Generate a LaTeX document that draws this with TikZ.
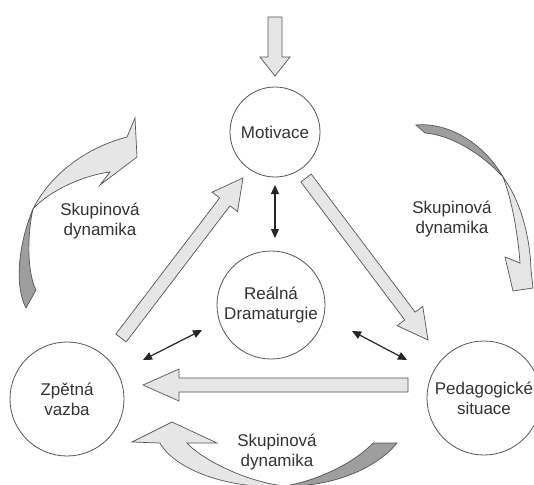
\documentclass[tikz,border=0pt]{standalone}
\usepackage{fontspec}
\setmainfont{Liberation Sans}
\usetikzlibrary{calc,arrows.meta}
\definecolor{lightfill}{HTML}{E6E6E6}
\definecolor{darkfill}{HTML}{9E9E9E}
\definecolor{edgec}{HTML}{555555}
\definecolor{txt}{HTML}{333333}
\newcommand\blockarr[5]{%
  \path ($(#2)!#5!(#1)$) coordinate (ba-hb);
  \draw[blockst] ($(#1)!#3!90:(#2)$) -- ($(ba-hb)!#3!90:(#2)$) -- ($(ba-hb)!#4!90:(#2)$) -- (#2)
    -- ($(ba-hb)!#4!-90:(#2)$) -- ($(ba-hb)!#3!-90:(#2)$) -- ($(#1)!#3!-90:(#2)$) -- cycle;
}
\begin{document}
\begin{tikzpicture}[x=1pt,y=-1pt,
  circ/.style={circle,draw=edgec,line width=0.8pt,minimum size=#1,inner sep=0pt,align=center,text=txt,font=\fontsize{17}{20}\selectfont},
  lbl/.style={align=center,text=txt,font=\fontsize{17}{20}\selectfont},
  blockst/.style={fill=lightfill,draw=edgec,line width=0.7pt,line join=miter},
  darkst/.style={fill=darkfill,draw=edgec,line width=0.7pt},
  dbl/.style={{Triangle[length=9pt,width=8pt]}-{Triangle[length=9pt,width=8pt]},line width=1.2pt,draw=black!85}]
\useasboundingbox (0,0) rectangle (534,484);
\fill[white] (0,0) rectangle (534,484);
\clip (0,0) rectangle (534,484);

% circles
\node[circ=90pt] (mot) at (275,132) {Motivace};
\node[circ=108pt] (dra) at (271,305) {Reálná\\Dramaturgie};
\node[circ=114pt] (zpv) at (67,399) {Zpětná\\vazba};
\node[circ=114pt] (ped) at (484,398) {Pedagogické\\situace};

% straight block arrows
\coordinate (intail) at (275,17);
\coordinate (intip) at (275,76);
\blockarr{intail}{intip}{7pt}{15pt}{19pt}
\coordinate (fbtail) at (121,338);
\coordinate (fbtip) at (243,178);
\blockarr{fbtail}{fbtip}{6.5pt}{16pt}{30pt}
\coordinate (mptail) at (306,178);
\coordinate (mptip) at (428,340);
\blockarr{mptail}{mptip}{6.5pt}{16pt}{30pt}
\coordinate (pztail) at (408,385);
\coordinate (pztip) at (143,385);
\blockarr{pztail}{pztip}{7pt}{16pt}{36pt}

% double arrows
\coordinate (v1) at (275,185); \coordinate (v2) at (275,238);
\draw[dbl] (v1) -- (v2);
\coordinate (l1) at (202,330); \coordinate (l2) at (143,360);
\draw[dbl] (l1) -- (l2);
\coordinate (r1) at (352,331); \coordinate (r2) at (407,360);
\draw[dbl] (r1) -- (r2);

% curved arrows: left
\draw[darkst] (33,209) .. controls (22,235) and (12,280) .. (26,308) -- (36,290)
  .. controls (26,270) and (28,230) .. (33,209) -- cycle;
\draw[blockst] (33,209) .. controls (50,175) and (85,148) .. (127,137) -- (135,118) -- (137,157)
  -- (100,185) -- (110,172) .. controls (85,175) and (50,190) .. (33,209) -- cycle;
% right
\draw[darkst] (416,125) .. controls (450,122) and (485,145) .. (503,177)
  .. controls (480,152) and (450,135) .. (425,133) -- cycle;
\draw[blockst] (503,177) .. controls (520,200) and (530,235) .. (531,270) -- (533,288) -- (513,291)
  -- (505,257) -- (520,263) .. controls (518,235) and (512,200) .. (503,177) -- cycle;
% bottom
\draw[darkst] (285,486) .. controls (320,480) and (355,462) .. (373,443) -- (397,443)
  .. controls (375,470) and (330,487) .. (285,486) -- cycle;
\draw[blockst] (160,443) -- (132,442) -- (172,422) -- (217,443) -- (187,443)
  .. controls (200,458) and (245,482) .. (285,486) .. controls (230,490) and (175,470) .. (160,443) -- cycle;

% labels
\node[lbl] (sdl) at (100,221) {Skupinová\\dynamika};
\node[lbl] (sdr) at (452,219) {Skupinová\\dynamika};
\node[lbl] (sdb) at (277,452) {Skupinová\\dynamika};
\end{tikzpicture}
\end{document}
